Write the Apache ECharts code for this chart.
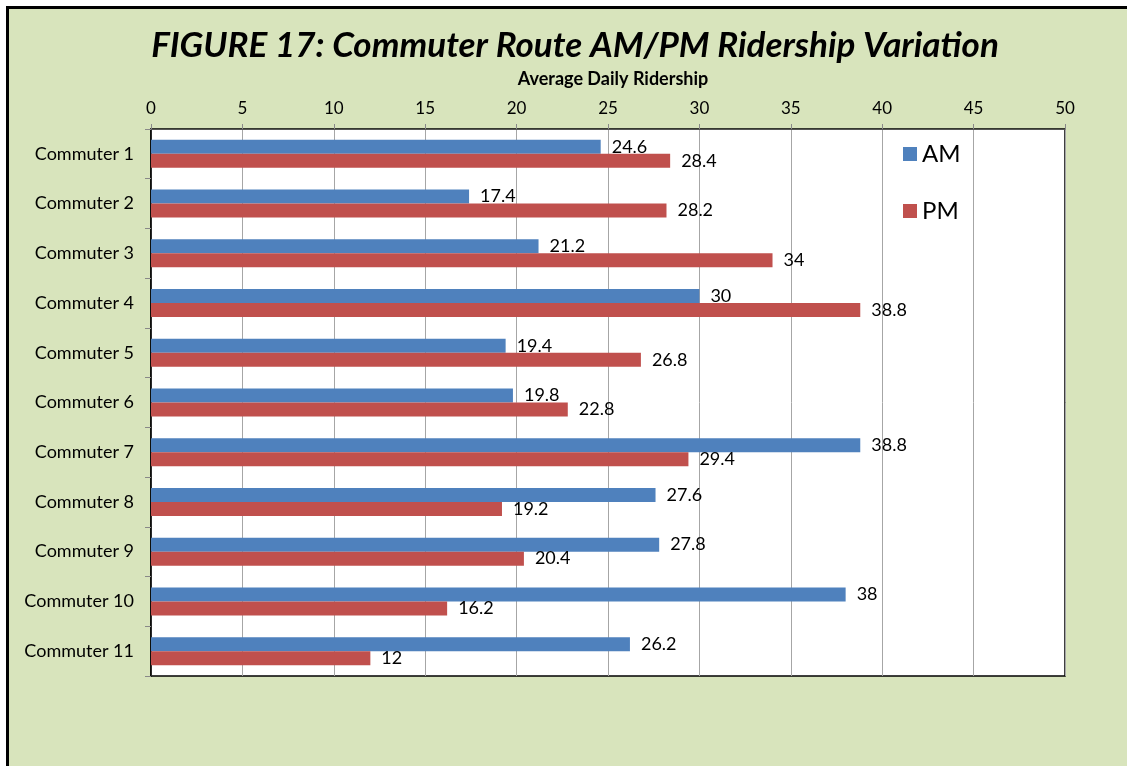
<!DOCTYPE html>
<html><head><meta charset="utf-8">
<script src="https://cdn.jsdelivr.net/npm/echarts@6/dist/echarts.min.js"></script>
<style>html,body{margin:0;padding:0;background:#fff;overflow:hidden;}
#wrap{position:relative;width:1127px;height:766px;overflow:hidden;background:#fff;}
#frame{position:absolute;left:6px;top:6px;width:1300px;height:900px;border-left:3px solid #000;border-top:3px solid #000;background:#d8e4bc;}
#c{position:absolute;left:0;top:0;width:1127px;height:766px;}</style>
</head><body><div id="wrap"><div id="frame"></div><div id="c"></div></div>
<script>
const categories = ['Commuter 1','Commuter 2','Commuter 3','Commuter 4','Commuter 5','Commuter 6','Commuter 7','Commuter 8','Commuter 9','Commuter 10','Commuter 11'];
const amValues = [24.6, 17.4, 21.2, 30, 19.4, 19.8, 38.8, 27.6, 27.8, 38, 26.2];
const pmValues = [28.4, 28.2, 34, 38.8, 26.8, 22.8, 29.4, 19.2, 20.4, 16.2, 12];
const titleText = 'FIGURE 17: Commuter Route AM/PM Ridership Variation';
const axisTitle = 'Average Daily Ridership';

const FONT = 'Lato, "Open Sans", "Liberation Sans", sans-serif';
const chart = echarts.init(document.getElementById('c'));
const lbl = {show: true, position: 'right', distance: 11, color: '#000', fontSize: 18, fontFamily: FONT};
chart.setOption({
  animation: false,
  backgroundColor: 'transparent',
  title: [{text: titleText, left: 570, top: 23, textAlign: 'center',
    textStyle: {fontFamily: FONT, fontSize: 35, fontWeight: 'bold', fontStyle: 'italic', color: '#000'}},
    {text: axisTitle, left: 608, top: 65, textAlign: 'center',
    textStyle: {fontFamily: FONT, fontSize: 18, fontWeight: 'bold', color: '#000'}}],
  legend: {orient: 'vertical', left: 898, top: 137, itemWidth: 14, itemHeight: 14, itemGap: 33,
    icon: 'rect', textStyle: {fontFamily: FONT, fontSize: 24, color: '#000'}, data: ['AM','PM']},
  grid: {left: 151, top: 129, right: 62, bottom: 90, show: true, backgroundColor: '#fff',
    borderColor: '#000', borderWidth: 1.5},
  xAxis: {type: 'value', position: 'top', min: 0, max: 50, interval: 5,
    axisLine: {show: true, lineStyle: {color: '#555', width: 1}},
    axisTick: {show: true, length: 5, lineStyle: {color: '#888'}},
    axisLabel: {fontFamily: FONT, fontSize: 17, color: '#000', margin: 12},
    splitLine: {show: true, lineStyle: {color: '#a6a6a6', width: 1}}},
  yAxis: {type: 'category', data: categories, inverse: true,
    axisLine: {show: true, lineStyle: {color: '#000', width: 1.5}},
    axisTick: {show: true, length: 6, alignWithLabel: false, lineStyle: {color: '#888'}},
    axisLabel: {fontFamily: FONT, fontSize: 18, color: '#000', margin: 17}},
  series: [
    {name: 'AM', type: 'bar', data: amValues, barWidth: 14, barGap: '0%',
     itemStyle: {color: '#4f81bd'}, label: lbl},
    {name: 'PM', type: 'bar', data: pmValues, barWidth: 14, barGap: '0%',
     itemStyle: {color: '#c0504d'}, label: lbl}
  ]
});
</script></body></html>
